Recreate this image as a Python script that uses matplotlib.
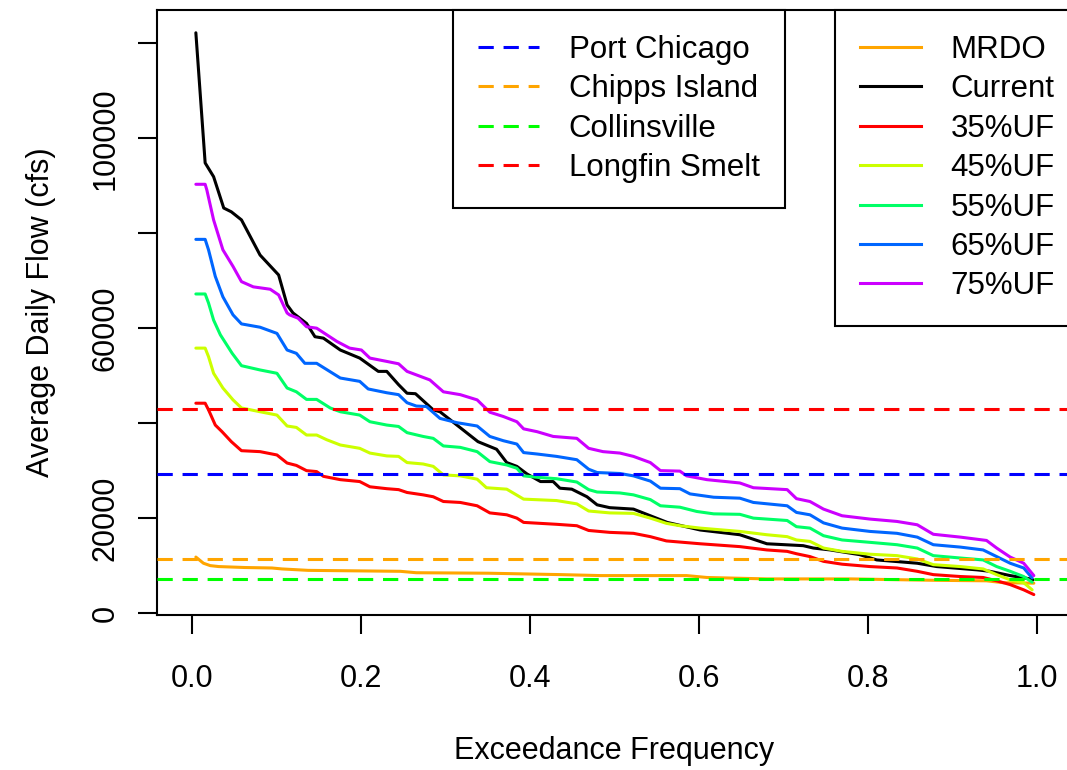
import matplotlib.pyplot as plt
from matplotlib.lines import Line2D

plt.rcParams['font.family'] = ['Liberation Sans', 'DejaVu Sans']

# ---- data ----
x_mrdo = [0.004, 0.013, 0.021, 0.031, 0.062, 0.094, 0.106, 0.137, 0.246, 0.265, 0.350, 0.437,
          0.483, 0.585, 0.609, 0.680, 0.779, 0.881, 0.940, 0.960, 0.996]
y_mrdo = [11800, 10500, 10000, 9800, 9600, 9500, 9300, 9000, 8800, 8500, 8400, 8100,
          7900, 7900, 7500, 7200, 7200, 6900, 6800, 6400, 6300]

x_current = [0.004, 0.015, 0.025, 0.037, 0.046, 0.058, 0.080, 0.102, 0.112, 0.119, 0.135, 0.145,
             0.155, 0.175, 0.198, 0.220, 0.230, 0.244, 0.254, 0.264, 0.285, 0.293, 0.313, 0.338,
             0.360, 0.372, 0.384, 0.396, 0.412, 0.427, 0.435, 0.449, 0.467, 0.479, 0.494, 0.522,
             0.562, 0.601, 0.648, 0.680, 0.723, 0.735, 0.755, 0.790, 0.810, 0.858, 0.881, 0.929,
             0.944, 0.968, 0.992, 0.995]
y_current = [122200, 94800, 91900, 85300, 84500, 82800, 75400, 71200, 64900, 63200, 61000, 58200,
             57900, 55400, 53700, 50900, 50900, 48100, 46300, 46200, 42800, 42400, 39600, 36100,
             34500, 31700, 30900, 29300, 27700, 27700, 26300, 26100, 24500, 22800, 22200, 21900,
             19100, 17500, 16500, 14600, 14200, 13700, 13300, 12300, 11200, 10500, 9800, 9100,
             8800, 7900, 7200, 7000]

x_uf35 = [0.004, 0.015, 0.019, 0.027, 0.035, 0.046, 0.058, 0.080, 0.100, 0.112, 0.123, 0.135,
          0.147, 0.155, 0.175, 0.198, 0.210, 0.230, 0.244, 0.254, 0.273, 0.285, 0.297, 0.317,
          0.337, 0.352, 0.372, 0.384, 0.392, 0.431, 0.455, 0.469, 0.494, 0.522, 0.542, 0.561,
          0.601, 0.648, 0.680, 0.704, 0.715, 0.731, 0.747, 0.769, 0.802, 0.834, 0.858, 0.877,
          0.909, 0.936, 0.952, 0.968, 0.984, 0.996]
y_uf35 = [44200, 44200, 42800, 39600, 38200, 36100, 34200, 34000, 33300, 31600, 31100, 30000,
          29800, 28800, 28100, 27700, 26600, 26200, 26000, 25400, 24900, 24500, 23500, 23300,
          22600, 21100, 20700, 20000, 19100, 18700, 18400, 17400, 17000, 16800, 16100, 15200,
          14600, 14000, 13300, 13000, 12500, 11900, 10900, 10300, 9800, 9500, 8800, 8100,
          7700, 7500, 6800, 6000, 4900, 3900]

x_uf45 = [0.004, 0.015, 0.019, 0.025, 0.036, 0.048, 0.058, 0.080, 0.100, 0.112, 0.123, 0.135,
          0.147, 0.159, 0.175, 0.198, 0.210, 0.230, 0.244, 0.254, 0.273, 0.285, 0.297, 0.317,
          0.337, 0.348, 0.372, 0.392, 0.431, 0.455, 0.469, 0.494, 0.522, 0.542, 0.561, 0.577,
          0.601, 0.648, 0.680, 0.704, 0.715, 0.731, 0.747, 0.769, 0.802, 0.834, 0.858, 0.877,
          0.909, 0.936, 0.952, 0.968, 0.984, 0.994]
y_uf45 = [55800, 55800, 54000, 50500, 47400, 44900, 43200, 42400, 41700, 39400, 39100, 37500,
          37500, 36500, 35400, 34700, 33700, 33100, 33000, 31700, 31400, 30900, 29100, 28900,
          28200, 26400, 26100, 24000, 23700, 23000, 21500, 21100, 21000, 20000, 18900, 18400,
          17900, 17200, 16500, 16100, 15400, 15100, 13700, 13000, 12400, 12100, 11400, 10200,
          9800, 9300, 8100, 7000, 6400, 4900]

x_uf55 = [0.004, 0.015, 0.019, 0.025, 0.033, 0.047, 0.058, 0.080, 0.100, 0.112, 0.123, 0.135,
          0.147, 0.163, 0.175, 0.198, 0.210, 0.230, 0.244, 0.254, 0.273, 0.285, 0.297, 0.317,
          0.337, 0.352, 0.372, 0.384, 0.392, 0.408, 0.431, 0.455, 0.469, 0.479, 0.506, 0.522,
          0.542, 0.554, 0.577, 0.597, 0.617, 0.648, 0.664, 0.704, 0.715, 0.731, 0.747, 0.769,
          0.802, 0.834, 0.858, 0.877, 0.909, 0.936, 0.952, 0.968, 0.984, 0.994]
y_uf55 = [67200, 67200, 65300, 61700, 58600, 54700, 52100, 51200, 50500, 47400, 46600, 45000,
          45000, 43200, 42400, 41700, 40300, 39600, 39300, 38000, 37200, 36800, 35200, 34900,
          34000, 31900, 31200, 30500, 28900, 28600, 28300, 27600, 26000, 25500, 25300, 24900,
          23900, 22600, 22300, 21400, 20900, 20800, 20000, 19500, 18200, 17900, 16300, 15400,
          14900, 14400, 13700, 12100, 11600, 11200, 9800, 8800, 7700, 6500]

x_uf65 = [0.004, 0.015, 0.019, 0.027, 0.036, 0.048, 0.058, 0.080, 0.100, 0.112, 0.123, 0.133,
          0.147, 0.175, 0.198, 0.208, 0.230, 0.244, 0.254, 0.265, 0.277, 0.293, 0.313, 0.337,
          0.352, 0.368, 0.384, 0.392, 0.408, 0.431, 0.455, 0.469, 0.479, 0.506, 0.522, 0.542,
          0.554, 0.577, 0.589, 0.617, 0.648, 0.664, 0.704, 0.715, 0.731, 0.747, 0.769, 0.802,
          0.834, 0.858, 0.877, 0.909, 0.936, 0.952, 0.968, 0.984, 0.994]
y_uf65 = [78700, 78700, 76500, 70900, 66600, 62800, 60900, 60200, 58900, 55400, 54700, 52600,
          52600, 49500, 48800, 47200, 46400, 46000, 44300, 43600, 43500, 41000, 40100, 39400,
          37200, 36300, 35600, 33800, 33500, 33000, 32300, 30300, 29600, 29400, 28900, 27800,
          26300, 26200, 25100, 24400, 24200, 23300, 22600, 21200, 20700, 19000, 17900, 17200,
          16800, 16000, 14400, 13900, 13300, 11900, 10500, 9500, 7400]

x_uf75 = [0.004, 0.015, 0.017, 0.025, 0.036, 0.048, 0.058, 0.072, 0.092, 0.102, 0.112, 0.115,
          0.125, 0.135, 0.147, 0.171, 0.186, 0.200, 0.210, 0.230, 0.244, 0.254, 0.281, 0.297,
          0.317, 0.337, 0.352, 0.368, 0.384, 0.392, 0.408, 0.427, 0.455, 0.469, 0.486, 0.506,
          0.522, 0.542, 0.554, 0.577, 0.585, 0.609, 0.648, 0.664, 0.704, 0.715, 0.731, 0.747,
          0.769, 0.802, 0.834, 0.858, 0.877, 0.909, 0.940, 0.952, 0.968, 0.984, 0.996]
y_uf75 = [90300, 90300, 89100, 82800, 76500, 73000, 69800, 68700, 68200, 67000, 63200, 62800,
          62100, 60300, 60000, 57200, 55800, 55400, 53700, 53000, 52500, 50900, 49100, 46600,
          46000, 44900, 42300, 41400, 40300, 38800, 38200, 37200, 36800, 34700, 34000, 33700,
          33000, 31700, 30000, 29900, 28900, 28100, 27400, 26400, 26000, 24100, 23500, 21900,
          20500, 19800, 19300, 18600, 16600, 16000, 15300, 13700, 11800, 10500, 7900]

scenario_names = ['MRDO', 'Current', '35%UF', '45%UF', '55%UF', '65%UF', '75%UF']
scenario_colors = ['orange', 'black', '#FF0000', '#CCFF00', '#00FF66', '#0066FF', '#CC00FF']
scenario_x = [x_mrdo, x_current, x_uf35, x_uf45, x_uf55, x_uf65, x_uf75]
scenario_y = [y_mrdo, y_current, y_uf35, y_uf45, y_uf55, y_uf65, y_uf75]

# flow thresholds (cfs)
thresh_names = ['Port Chicago', 'Chipps Island', 'Collinsville', 'Longfin Smelt']
thresh_values = [29200, 11400, 7100, 42900]
thresh_colors = ['#0000FF', 'orange', '#00FF00', '#FF0000']

# ---- figure ----
fig = plt.figure(figsize=(10.67, 7.7), dpi=100)
ax = fig.add_axes([157/1067, 155/770, 914/1067, 605/770])

lw = 2.2
dash = (0, (5, 3.2))
for x, y, c in zip(scenario_x, scenario_y, scenario_colors):
    ax.plot(x, y, color=c, lw=lw, solid_joinstyle='round', solid_capstyle='round', zorder=2)
for v, c in zip(thresh_values, thresh_colors):
    ax.axhline(v, color=c, lw=lw, ls=dash, zorder=3)

ax.set_xlim(-0.042, 1.040)
ax.set_ylim(-400, 127000)

ax.set_xticks([0.0, 0.2, 0.4, 0.6, 0.8, 1.0])
ax.set_xticklabels(['0.0', '0.2', '0.4', '0.6', '0.8', '1.0'])
ax.set_yticks([0, 20000, 40000, 60000, 80000, 100000, 120000])
ax.set_yticklabels(['0', '20000', '', '60000', '', '100000', ''])  # R drops the crowded ones
ax.tick_params(direction='out', length=14, width=1.5, labelsize=22, color='black')
ax.tick_params(axis='x', pad=21)
ax.tick_params(axis='y', pad=12)
for lab in ax.get_yticklabels():
    lab.set_rotation(90)
    lab.set_va('center')
for s in ax.spines.values():
    s.set_linewidth(1.5)

ax.set_xlabel('Exceedance Frequency', fontsize=22, va='center')
ax.xaxis.set_label_coords(0.5, -0.2254)
ax.set_ylabel('Average Daily Flow (cfs)', fontsize=22, va='center')
ax.yaxis.set_label_coords(-0.1270, 0.5)

# ---- legends ----
leg_kw = dict(loc='upper left', borderaxespad=0, fontsize=22.5, frameon=True, fancybox=False,
              edgecolor='black', framealpha=1, handlelength=1.95, handletextpad=0.95,
              borderpad=0.8, labelspacing=0.3)
h1 = [Line2D([], [], color=c, lw=lw, ls=dash) for c in thresh_colors]
leg1 = ax.legend(h1, thresh_names, bbox_to_anchor=(0.3239, 1.0), **leg_kw)
leg1.get_frame().set_linewidth(1.5)
ax.add_artist(leg1)

h2 = [Line2D([], [], color=c, lw=lw) for c in scenario_colors]
leg2 = ax.legend(h2, scenario_names, bbox_to_anchor=(0.7418, 1.0), **leg_kw)
leg2.get_frame().set_linewidth(1.5)

plt.savefig('out.png', dpi=100)
